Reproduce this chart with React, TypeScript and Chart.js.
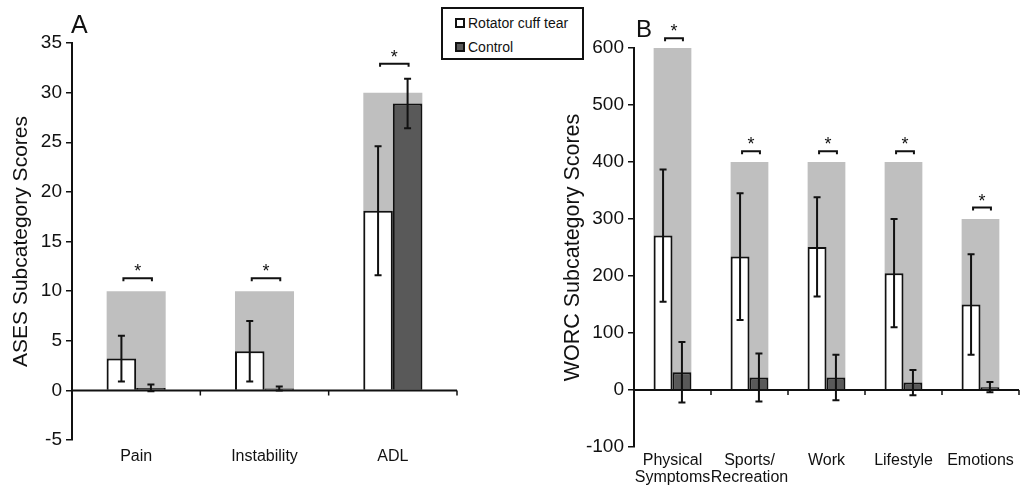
import React, { useEffect, useRef } from "react";
import { Chart, registerables } from "chart.js";

Chart.register(...registerables);

// ---------- Data ----------
const categoriesA = ["Pain", "Instability", "ADL"];
const maxScoreA = [10, 10, 30];
const tearA = [3.2, 3.95, 18.1];
const tearSdA = [2.3, 3.05, 6.5];
const controlA = [0.25, 0.2, 28.9];
const controlSdA = [0.35, 0.2, 2.5];
const sigLevelA = [11.3, 11.3, 32.9];
const ticksA = { min: -5, max: 35, step: 5 };

const categoriesB = [["Physical", "Symptoms"], ["Sports/", "Recreation"], "Work", "Lifestyle", "Emotions"];
const maxScoreB = [600, 400, 400, 400, 300];
const tearB = [271, 234, 251, 205, 150];
const tearSdB = [116, 111, 87, 95, 88];
const controlB = [31, 22, 22, 13, 5];
const controlSdB = [53, 42, 40, 22, 9];
const sigLevelB = [617, 419, 419, 419, 320];
const ticksB = { min: -100, max: 600, step: 100 };

const seriesNames = ["Rotator cuff tear", "Control"];

const FONT = "'Liberation Sans', Arial, sans-serif";
const GRAY = "#bfbfbf";
const DARK = "#595959";
const INK = "#111111";

type PanelCfg = {
  letter: string;
  letterX: number;
  letterY: number;
  letterSize: number;
  labels: any[];
  maxScore: number[];
  tear: number[];
  tearSd: number[];
  control: number[];
  controlSd: number[];
  sig: number[];
  ticks: { min: number; max: number; step: number };
  yTitle: string;
  yTitleSize: number;
  yTitlePad: number;
  yAxisWidth: number;
  xAxisHeight: number;
  xLabelPad: number;
  padTop: number;
  padRight: number;
  catPct: number;
  width: number;
  height: number;
};

function makeDecor(cfg: PanelCfg) {
  return {
    id: "decor" + cfg.letter,
    afterDatasetsDraw(chart: any) {
      const { ctx, chartArea, scales } = chart;
      const y = scales.y;
      const y0 = y.getPixelForValue(0);
      const n = chart.data.labels.length;
      const cw = (chartArea.right - chartArea.left) / n;
      ctx.save();
      // zero line
      ctx.strokeStyle = INK;
      ctx.lineWidth = 2;
      ctx.beginPath();
      ctx.moveTo(chartArea.left, y0);
      ctx.lineTo(chartArea.right, y0);
      ctx.stroke();
      // category boundary ticks
      ctx.lineWidth = 1.5;
      ctx.beginPath();
      for (let i = 1; i <= n; i++) {
        const bx = chartArea.left + i * cw;
        ctx.moveTo(bx, y0);
        ctx.lineTo(bx, y0 + 5);
      }
      ctx.stroke();
      // error bars
      const drawErr = (dsIndex: number, vals: number[], sds: number[]) => {
        const meta = chart.getDatasetMeta(dsIndex);
        meta.data.forEach((el: any, i: number) => {
          const x = el.x;
          const top = y.getPixelForValue(vals[i] + sds[i]);
          const bot = y.getPixelForValue(vals[i] - sds[i]);
          ctx.lineWidth = 2;
          ctx.beginPath();
          ctx.moveTo(x, top);
          ctx.lineTo(x, bot);
          ctx.moveTo(x - 3.5, top);
          ctx.lineTo(x + 3.5, top);
          ctx.moveTo(x - 3.5, bot);
          ctx.lineTo(x + 3.5, bot);
          ctx.stroke();
        });
      };
      drawErr(0, cfg.tear, cfg.tearSd);
      drawErr(1, cfg.control, cfg.controlSd);
      // significance brackets
      const mW = chart.getDatasetMeta(0);
      const mD = chart.getDatasetMeta(1);
      ctx.fillStyle = INK;
      ctx.font = `18px ${FONT}`;
      ctx.textAlign = "center";
      ctx.textBaseline = "alphabetic";
      cfg.sig.forEach((lvl, i) => {
        const x1 = mW.data[i].x + 2;
        const x2 = mD.data[i].x + 1;
        const by = y.getPixelForValue(lvl);
        ctx.lineWidth = 2;
        ctx.beginPath();
        ctx.moveTo(x1, by + 3);
        ctx.lineTo(x1, by);
        ctx.lineTo(x2, by);
        ctx.lineTo(x2, by + 3);
        ctx.stroke();
        ctx.fillText("*", (x1 + x2) / 2, by - 1);
      });
      // panel letter
      ctx.font = `${cfg.letterSize}px ${FONT}`;
      ctx.textAlign = "left";
      ctx.fillText(cfg.letter, cfg.letterX, cfg.letterY);
      ctx.restore();
    },
  };
}

function Panel({ cfg, left }: { cfg: PanelCfg; left: number }) {
  const ref = useRef<HTMLCanvasElement | null>(null);
  useEffect(() => {
    if (!ref.current) return;
    const chart = new Chart(ref.current, {
      type: "bar",
      data: {
        labels: cfg.labels,
        datasets: [
          {
            label: seriesNames[0],
            data: cfg.tear,
            backgroundColor: "#ffffff",
            borderColor: INK,
            borderWidth: 2,
            order: 0,
            categoryPercentage: cfg.catPct,
            barPercentage: 1,
          },
          {
            label: seriesNames[1],
            data: cfg.control,
            backgroundColor: DARK,
            borderColor: INK,
            borderWidth: 2,
            order: 0,
            categoryPercentage: cfg.catPct,
            barPercentage: 1,
          },
          {
            label: "Max",
            data: cfg.maxScore,
            backgroundColor: GRAY,
            borderWidth: 0,
            grouped: false,
            order: 1,
            categoryPercentage: cfg.catPct,
            barPercentage: 1,
          },
        ],
      },
      options: {
        responsive: false,
        animation: false,
        events: [],
        layout: { padding: { top: cfg.padTop, right: cfg.padRight, bottom: 0, left: 0 } },
        plugins: { legend: { display: false }, tooltip: { enabled: false }, title: { display: false } },
        scales: {
          x: {
            type: "category",
            offset: true,
            border: { display: false },
            grid: { display: false, drawTicks: false },
            ticks: {
              color: INK,
              font: { family: FONT, size: 16, lineHeight: 1.08 },
              padding: cfg.xLabelPad,
              maxRotation: 0,
              autoSkip: false,
            },
            afterFit: (s: any) => {
              s.height = cfg.xAxisHeight;
            },
          },
          y: {
            min: cfg.ticks.min,
            max: cfg.ticks.max,
            border: { display: true, color: INK, width: 2 },
            grid: { drawOnChartArea: false, drawTicks: true, tickLength: 6, color: INK, lineWidth: 1.5 },
            ticks: {
              stepSize: cfg.ticks.step,
              color: INK,
              font: { family: FONT, size: 19 },
              padding: 4,
            },
            title: {
              display: true,
              text: cfg.yTitle,
              color: INK,
              font: { family: FONT, size: cfg.yTitleSize },
              padding: { top: cfg.yTitlePad, bottom: 0 },
            },
            afterFit: (s: any) => {
              s.width = cfg.yAxisWidth;
            },
          },
        },
      },
      plugins: [makeDecor(cfg)],
    } as any);
    return () => chart.destroy();
  }, [cfg]);
  return (
    <canvas
      ref={ref}
      width={cfg.width}
      height={cfg.height}
      style={{ position: "absolute", left, top: 0, width: cfg.width, height: cfg.height }}
    />
  );
}

const cfgA: PanelCfg = {
  letter: "A",
  letterX: 71,
  letterY: 33,
  letterSize: 25,
  labels: categoriesA,
  maxScore: maxScoreA,
  tear: tearA,
  tearSd: tearSdA,
  control: controlA,
  controlSd: controlSdA,
  sig: sigLevelA,
  ticks: ticksA,
  yTitle: "ASES Subcategory Scores",
  yTitleSize: 21,
  yTitlePad: 9,
  yAxisWidth: 72,
  xAxisHeight: 47,
  xLabelPad: 8,
  padTop: 43,
  padRight: 23,
  catPct: 0.46,
  width: 480,
  height: 487,
};

const cfgB: PanelCfg = {
  letter: "B",
  letterX: 76,
  letterY: 37,
  letterSize: 24,
  labels: categoriesB,
  maxScore: maxScoreB,
  tear: tearB,
  tearSd: tearSdB,
  control: controlB,
  controlSd: controlSdB,
  sig: sigLevelB,
  ticks: ticksB,
  yTitle: "WORC Subcategory Scores",
  yTitleSize: 21.5,
  yTitlePad: 0,
  yAxisWidth: 74,
  xAxisHeight: 40,
  xLabelPad: 5,
  padTop: 48,
  padRight: 6,
  catPct: 0.49,
  width: 465,
  height: 487,
};

function Legend() {
  const sq = (fill: string) => ({
    display: "inline-block",
    width: 6,
    height: 6,
    border: `2px solid ${INK}`,
    background: fill,
    marginRight: 3,
    verticalAlign: "middle",
    position: "relative" as const,
    top: -1,
  });
  return (
    <div
      style={{
        position: "absolute",
        left: 441,
        top: 7,
        width: 139,
        height: 49,
        border: `2px solid ${INK}`,
        background: "#fff",
        fontFamily: FONT,
        fontSize: 14,
        color: INK,
        zIndex: 2,
      }}
    >
      <div style={{ position: "absolute", left: 12, top: 6, whiteSpace: "nowrap", lineHeight: "16px" }}>
        <span style={sq("#ffffff")} />
        {seriesNames[0]}
      </div>
      <div style={{ position: "absolute", left: 12, top: 30, whiteSpace: "nowrap", lineHeight: "16px" }}>
        <span style={sq(DARK)} />
        {seriesNames[1]}
      </div>
    </div>
  );
}

export default function App() {
  return (
    <div
      style={{
        position: "fixed",
        left: 0,
        top: 0,
        width: 1025,
        height: 487,
        background: "#ffffff",
        overflow: "hidden",
      }}
    >
      <Panel cfg={cfgA} left={0} />
      <Panel cfg={cfgB} left={560} />
      <Legend />
    </div>
  );
}
